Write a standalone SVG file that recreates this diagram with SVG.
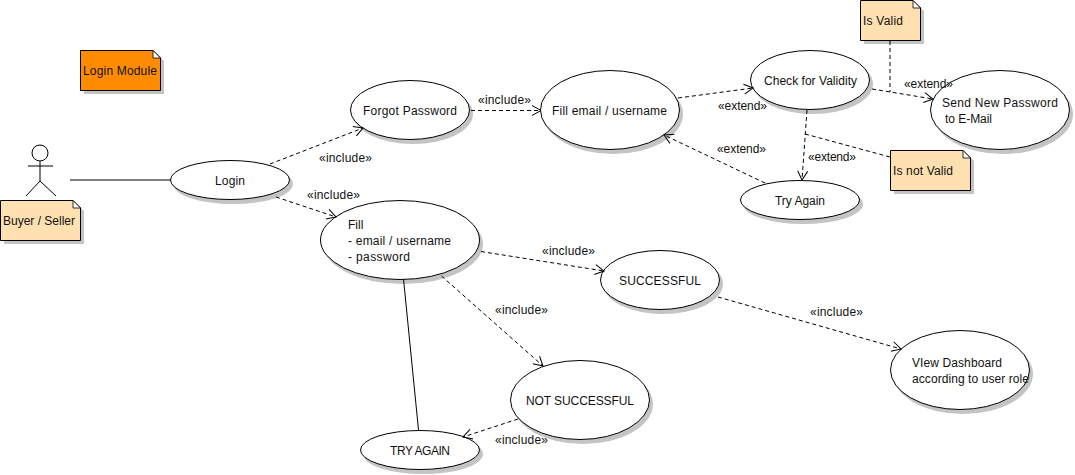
<svg xmlns="http://www.w3.org/2000/svg" width="1075" height="475" viewBox="0 0 1075 475">
<style>
text{font-family:"Liberation Sans",Arial,sans-serif;font-size:12px;fill:#111}
.uc{fill:#fff;stroke:#000;stroke-width:1}
.sh{fill:#c4c4c4;stroke:none}
.n{fill:#ffe0b0;stroke:#000;stroke-width:1}
.o{fill:#ff8c00;stroke:#000;stroke-width:1}
.f{fill:#fff;stroke:#000;stroke-width:.8}
.d{fill:none;stroke:#000;stroke-width:1;stroke-dasharray:4 3;marker-end:url(#a)}
.dn{fill:none;stroke:#000;stroke-width:1;stroke-dasharray:4 3}
.s{fill:none;stroke:#000;stroke-width:1}
.m{text-anchor:middle}
</style>
<defs><marker id="a" viewBox="-11 -6 12 12" refX="0" refY="0" markerWidth="12" markerHeight="12" markerUnits="userSpaceOnUse" orient="auto"><path d="M-9-5L0 0L-9 5" fill="none" stroke="#000" stroke-dasharray="none"/></marker></defs>
<rect width="1075" height="475" fill="#fff"/>
<g id="login-module"><path class="sh" d="M84 54H157L164 61V94H84Z"/><path class="o" d="M80.500 50.500H153L160.500 58V90.500H80.500Z"/><path class="f" d="M153 50.500V58H160.500Z"/><text x="83" y="75" textLength="74">Login Module</text></g>
<g id="actor"><circle class="uc" cx="40" cy="153" r="8"/><path class="s" d="M40 161V181M28 166H53M40 181L26 196M40 181L56 196"/></g>
<g id="buyer-seller"><path class="sh" d="M4 204H77L84 211V244H4Z"/><path class="n" d="M.5 200.500H73L80.500 208V240.500H.5Z"/><path class="f" d="M73 200.500V208H80.500Z"/><text x="3" y="225" textLength="72">Buyer / Seller</text></g>
<g id="login"><ellipse class="sh" cx="233" cy="184" rx="60" ry="20"/><ellipse class="uc" cx="230" cy="180" rx="59.500" ry="19.500"/><text x="215" y="185" textLength="30">Login</text></g>
<g id="forgot-password"><ellipse class="sh" cx="413" cy="114" rx="60" ry="30"/><ellipse class="uc" cx="410" cy="110" rx="59.500" ry="29.500"/><text x="363" y="115" textLength="94">Forgot Password</text></g>
<g id="fill-email"><ellipse class="sh" cx="613" cy="114" rx="70" ry="40"/><ellipse class="uc" cx="610" cy="110" rx="69.500" ry="39.500"/><text x="552" y="115" textLength="115">Fill email / username</text></g>
<g id="check-validity"><ellipse class="sh" cx="813" cy="84" rx="60" ry="30"/><ellipse class="uc" cx="810" cy="80" rx="59.500" ry="29.500"/><text x="764" y="85" textLength="93">Check for Validity</text></g>
<g id="send-password"><ellipse class="sh" cx="1003" cy="114" rx="70" ry="40"/><ellipse class="uc" cx="1000" cy="110" rx="69.500" ry="39.500"/><text x="942" y="107" textLength="116">Send New Password</text><text x="945" y="123" textLength="47">to E-Mail</text></g>
<g id="is-valid"><path class="sh" d="M864 4H917L924 11V44H864Z"/><path class="n" d="M860.500 .5H913L920.500 8V40.500H860.500Z"/><path class="f" d="M913 .5V8H920.500Z"/><text x="863" y="25" textLength="40">Is Valid</text></g>
<g id="is-not-valid"><path class="sh" d="M894 154H967L974 161V194H894Z"/><path class="n" d="M890.500 150.500H963L970.500 158V190.500H890.500Z"/><path class="f" d="M963 150.500V158H970.500Z"/><text x="893" y="175" textLength="60">Is not Valid</text></g>
<g id="try-again-top"><ellipse class="sh" cx="803" cy="204" rx="60" ry="20"/><ellipse class="uc" cx="800" cy="200" rx="59.500" ry="19.500"/><text x="775" y="205" textLength="50">Try Again</text></g>
<g id="fill"><ellipse class="sh" cx="403" cy="244" rx="80" ry="40"/><ellipse class="uc" cx="400" cy="240" rx="79.500" ry="39.500"/><text x="348" y="229">Fill</text><text x="348" y="245" textLength="103">- email / username</text><text x="348" y="261" textLength="62">- password</text></g>
<g id="successful"><ellipse class="sh" cx="663" cy="284" rx="60" ry="30"/><ellipse class="uc" cx="660" cy="280" rx="59.500" ry="29.500"/><text x="619" y="285" textLength="82">SUCCESSFUL</text></g>
<g id="not-successful"><ellipse class="sh" cx="583" cy="404" rx="70" ry="40"/><ellipse class="uc" cx="580" cy="400" rx="69.500" ry="39.500"/><text x="526" y="405" textLength="108">NOT SUCCESSFUL</text></g>
<g id="try-again"><ellipse class="sh" cx="423" cy="454" rx="60" ry="20"/><ellipse class="uc" cx="420" cy="450" rx="59.500" ry="19.500"/><text x="390" y="455" textLength="60">TRY AGAIN</text></g>
<g id="dashboard"><ellipse class="sh" cx="963" cy="374" rx="70" ry="40"/><ellipse class="uc" cx="960" cy="370" rx="69.500" ry="39.500"/><text x="912" y="367" textLength="90">VIew Dashboard</text><text x="912" y="383" textLength="117">according to user role</text></g>
<g id="connectors">
<path class="s" d="M70 180H171"/>
<path class="d" d="M270 164L363 128"/>
<path class="d" d="M276 197L336 217"/>
<path class="d" d="M471 110.500H541"/>
<path class="d" d="M678 98L753 88"/>
<path class="d" d="M872 89L933 99"/>
<path class="dn" d="M890 41V92"/>
<path class="d" d="M807 110L802 180"/>
<path class="dn" d="M805 134L890 157"/>
<path class="d" d="M765 183L664 135"/>
<path class="d" d="M481 251.500L604 271"/>
<path class="d" d="M441.500 276L543 366"/>
<path class="d" d="M718 297L901 349"/>
<path class="s" d="M403.500 279L418.500 430"/>
<path class="d" d="M518 419L463 437"/>
</g>
<g id="labels">
<text x="319" y="162" textLength="53">«include»</text><text x="307" y="199" textLength="53">«include»</text><text x="478" y="104" textLength="53">«include»</text>
<text x="718" y="110" textLength="49">«extend»</text><text x="904" y="88" textLength="49">«extend»</text><text x="717" y="153" textLength="49">«extend»</text><text x="808" y="161" textLength="48">«extend»</text>
<text x="542" y="255" textLength="53">«include»</text><text x="495" y="314" textLength="53">«include»</text><text x="810" y="316" textLength="53">«include»</text><text x="495" y="444" textLength="53">«include»</text>
</g>
</svg>
